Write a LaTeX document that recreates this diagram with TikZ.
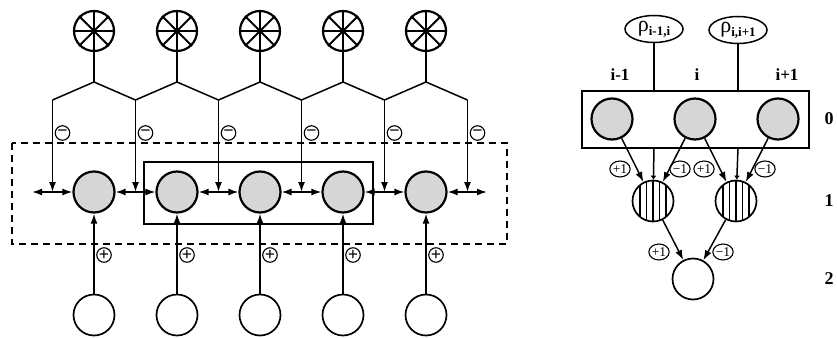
\documentclass[tikz,border=0pt]{standalone}
\usepackage{fontspec}
\setmainfont{Liberation Serif}
\usetikzlibrary{arrows.meta,shapes.geometric,calc}

\begin{document}
\begin{tikzpicture}[x=1pt,y=-1pt,
  wheel/.style={circle,draw,line width=2.2pt,minimum size=40pt,inner sep=0pt},
  grayball/.style={circle,draw,line width=2.2pt,fill=black!16,minimum size=41pt,inner sep=0pt},
  hollow/.style={circle,draw,line width=1.7pt,minimum size=41pt,inner sep=0pt},
  striped/.style={circle,draw,line width=1.7pt,minimum size=41pt,inner sep=0pt},
  sgn/.style={circle,draw,line width=1.1pt,inner sep=0pt,minimum size=14.5pt,font=\fontsize{18}{18}\selectfont\bfseries},
  wt/.style={ellipse,draw,line width=1.1pt,inner sep=0pt,minimum width=18pt,minimum height=16pt,font=\fontsize{13.5}{13.5}\selectfont},
  rho/.style={ellipse,draw,line width=1.5pt,minimum width=58pt,minimum height=27pt,inner sep=0pt},
  idx/.style={font=\fontsize{17}{17}\selectfont\bfseries},
  lvl/.style={font=\fontsize{18}{18}\selectfont\bfseries},
  wire/.style={line width=1.5pt},
  conn/.style={line width=1.5pt,-{Latex[length=10pt,width=7pt]}},
  tapdot/.style={line width=1.5pt,-{Latex[length=4pt,width=6pt]}}]
\useasboundingbox (0,0) rectangle (837,337);

% ---------------- chain network ----------------
% enclosing frames
\draw[line width=1.5pt,dash pattern=on 7pt off 5pt] (12,143) rectangle (507,244);
\draw[line width=1.5pt] (144,162) rectangle (373,224);

\foreach \k in {1,...,5}{
  \pgfmathsetmacro{\cx}{11+83*\k}
  \node[wheel] (w\k) at (\cx,31) {};
  \foreach \a in {0,45,90,135}
    \draw[line width=2pt] (w\k.\a) -- (w\k.\a+180);
  \fill (w\k.center) circle (2.5pt);
  \coordinate (s\k) at (\cx,82);
  \node[grayball] (g\k) at (\cx,192) {};
  \node[hollow] (b\k) at (\cx,315) {};
}
\foreach \j in {0,...,5}{
  \pgfmathsetmacro{\jx}{52.5+83*\j}
  \coordinate (t\j) at (\jx,100);
  \coordinate (j\j) at (\jx,192);
  \node[sgn] (m\j) at (\jx+10,133) {−};
  \draw[conn] (t\j) -- (j\j);
}
% stems and zigzag from each wheel to its two neighbouring taps
\foreach \k [evaluate=\k as \l using int(\k-1)] in {1,...,5}{
  \draw[wire] (w\k) -- (s\k);
  \draw[wire,line join=miter] (t\l) -- (s\k) -- (t\k);
}
% lateral arrows along the chain
\coordinate (lend) at (32,192);
\coordinate (rend) at (487,192);
\draw[conn] (j0) -- (lend);
\draw[conn] (j5) -- (rend);
\foreach \k [evaluate=\k as \l using int(\k-1)] in {1,...,5}{
  \draw[conn] (j\l) -- (g\k);
  \draw[conn] (j\k) -- (g\k);
}
% excitatory inputs from below
\foreach \k in {1,...,5}{
  \draw[conn] (b\k) -- (g\k);
  \node[sgn] (p\k) at ($(g\k)+(10,63)$) {+};
}

% ---------------- three-level detector ----------------
\node[rho] (r1) at (654,29) {\fontsize{22}{22}\selectfont ρ\raisebox{-4pt}{\fontsize{13}{13}\selectfont\bfseries i-1,i}};
\node[rho] (r2) at (738,30) {\fontsize{22}{22}\selectfont ρ\raisebox{-4pt}{\fontsize{13}{13}\selectfont\bfseries i,i+1}};
\node[idx] (i1) at (620,75) {i-1};
\node[idx] (i2) at (697,75) {i};
\node[idx] (i3) at (787,75) {i+1};
\draw[line width=1.6pt] (582,91) rectangle (809,148);
\coordinate (bx1) at (654,91);
\coordinate (bx2) at (738,91);
\coordinate (bb1) at (654,148);
\coordinate (bb2) at (738,148);
\draw[wire] (r1) -- (bx1);
\draw[wire] (r2) -- (bx2);

\node[grayball] (q1) at (612,119) {};
\node[grayball] (q2) at (695,119) {};
\node[grayball] (q3) at (778,119) {};

\node[striped] (h1) at (653,201) {};
\node[striped] (h2) at (736,201) {};
\foreach \n in {h1,h2}
  \foreach \d in {-13,-6.5,0,6.5,13}{
    \pgfmathsetmacro{\hh}{sqrt(20.5*20.5-\d*\d)}
    \draw[line width=1.2pt] ($(\n)+(\d,-\hh)$) -- ($(\n)+(\d,\hh)$);
  }
\node[hollow] (z) at (693,279) {};

\draw[tapdot] (bb1) -- (h1);
\draw[tapdot] (bb2) -- (h2);
\draw[conn] (q1) -- (h1);
\draw[conn] (q2) -- (h1);
\draw[conn] (q2) -- (h2);
\draw[conn] (q3) -- (h2);
\draw[conn] (h1) -- (z);
\draw[conn] (h2) -- (z);

\node[wt] (e1) at (620,169) {+1};
\node[wt] (e2) at (680,169) {−1};
\node[wt] (e3) at (704,169) {+1};
\node[wt] (e4) at (765,169) {−1};
\node[wt] (e5) at (659,252) {+1};
\node[wt] (e6) at (723,252) {−1};

\node[lvl] (l0) at (829,119) {0};
\node[lvl] (l1) at (829,201) {1};
\node[lvl] (l2) at (829,279) {2};
\end{tikzpicture}
\end{document}
